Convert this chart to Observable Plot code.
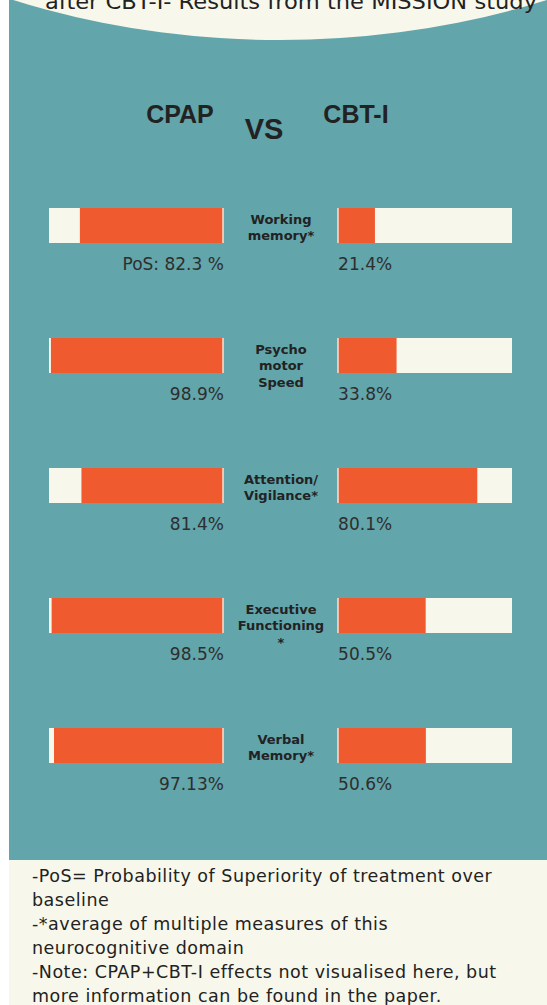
<!DOCTYPE html>
<html>
<head>
<meta charset="utf-8">
<script src="https://cdn.jsdelivr.net/npm/d3@7"></script>
<script src="https://cdn.jsdelivr.net/npm/@observablehq/plot@0.6"></script>
<style>
  html, body { margin: 0; padding: 0; background: #ffffff; }
  #page { position: relative; width: 547px; height: 1005px; overflow: hidden; background: #ffffff; }
  #panel { position: absolute; left: 9px; top: 0; width: 538px; height: 860px; background: #62a5aa; overflow: hidden; }
  #oval { position: absolute; left: -341px; top: -760px; width: 1224px; height: 800px; border-radius: 50%; background: #f7f8eb; }
  #headline { position: absolute; left: 0; top: -20px; }
  .head { position: absolute; width: 100px; text-align: center; font-family: "Liberation Sans", Arial, sans-serif; font-weight: 700; color: #222222; line-height: 1; }
  #chart { position: absolute; left: 0; top: 190px; }
  #footer { position: absolute; left: 9px; top: 860px; width: 538px; height: 145px; background: #f7f8eb;
            box-sizing: border-box; padding: 4px 0 0 23px; font-family: "DejaVu Sans", sans-serif; font-size: 17.5px; letter-spacing: 0.5px; line-height: 24px; color: #222222; white-space: nowrap; }
</style>
</head>
<body>
<div id="page">
  <div id="panel"><div id="oval"></div></div>
  <div id="headline"></div>
  <div class="head" id="hCpap" style="left:130px; top:102px; font-size:25px;">CPAP</div>
  <div class="head" id="hVs" style="left:214px; top:115px; font-size:29px;">VS</div>
  <div class="head" id="hCbti" style="left:306px; top:102px; font-size:25px;">CBT-I</div>
  <div id="chart"></div>
  <div id="footer"></div>
</div>
<script>
// ---- data ----
const domains = ["Working\nmemory*", "Psycho\nmotor\nSpeed", "Attention/\nVigilance*", "Executive\nFunctioning\n*", "Verbal\nMemory*"];
const cpapValues = [82.3, 98.9, 81.4, 98.5, 97.13];
const cbtiValues = [21.4, 33.8, 80.1, 50.5, 50.6];
const cpapLabels = ["PoS: 82.3 %", "98.9%", "81.4%", "98.5%", "97.13%"];
const cbtiLabels = ["21.4%", "33.8%", "80.1%", "50.5%", "50.6%"];
const headline = "after CBT-I- Results from the MISSION study";
const notes = [
  "-PoS= Probability of Superiority of treatment over",
  "baseline",
  "-*average of multiple measures of this",
  "neurocognitive domain",
  "-Note: CPAP+CBT-I effects not visualised here, but",
  "more information can be found in the paper."
];

// ---- layout / style constants ----
const FULL = 100;      // full bar = 100 %
const GAP = 32.75;     // half gap between the two bars, in % units
const ORANGE = "#ef5b2e";
const CREAM = "#f7f8eb";
const INK = "#222222";

const rows = domains.map((d, i) => ({
  domain: d, cpap: cpapValues[i], cbti: cbtiValues[i],
  cpapLabel: cpapLabels[i], cbtiLabel: cbtiLabels[i]
}));

const chart = Plot.plot({
  width: 547,
  height: 630,
  marginLeft: 49,
  marginRight: 35,
  marginTop: 0,
  marginBottom: 0,
  x: { domain: [-(GAP + FULL), GAP + FULL], axis: null },
  y: { type: "band", domain: domains, range: [18, 575], paddingInner: 1 - 35 / 130.5, paddingOuter: 0, align: 0, axis: null },
  style: { background: "transparent", fontFamily: "'DejaVu Sans', sans-serif", color: INK, overflow: "visible" },
  marks: [
    // bar backgrounds
    Plot.barX(rows, { y: "domain", x1: -(GAP + FULL), x2: -GAP, fill: CREAM }),
    Plot.barX(rows, { y: "domain", x1: GAP, x2: GAP + FULL, fill: CREAM }),
    // thin white edges at the inner ends
    Plot.barX(rows, { y: "domain", x1: d => -GAP - 0.6, x2: -GAP, fill: "#ffffff" }),
    Plot.barX(rows, { y: "domain", x1: GAP, x2: d => GAP + 0.6, fill: "#ffffff" }),
    // values
    Plot.barX(rows, { y: "domain", x1: d => -GAP - d.cpap, x2: -GAP, fill: ORANGE, insetRight: 1 }),
    Plot.barX(rows, { y: "domain", x1: GAP, x2: d => GAP + d.cbti, fill: ORANGE, insetLeft: 1 }),
    // value labels
    Plot.text(rows, { x: -GAP, y: "domain", text: "cpapLabel", textAnchor: "end", dy: 39, fontSize: 17, fill: "#2e2e2e" }),
    Plot.text(rows, { x: GAP, y: "domain", text: "cbtiLabel", textAnchor: "start", dy: 39, fontSize: 17, fill: "#2e2e2e" }),
    // domain names
    Plot.text(rows, { x: 0, y: "domain", text: "domain", lineAnchor: "top", dy: -14.5, fontSize: 13, fontWeight: 700, lineHeight: 1.3, fill: INK })
  ]
});
document.getElementById("chart").appendChild(chart);

// headline (partly cut off by the top edge)
const hs = d3.select("#headline").append("svg").attr("width", 547).attr("height", 40);
hs.append("text").attr("x", 45).attr("y", 29)
  .attr("textLength", 492).attr("lengthAdjust", "spacingAndGlyphs")
  .attr("font-family", "'DejaVu Sans', sans-serif").attr("font-size", 22).attr("fill", INK)
  .text(headline);

// footer notes
d3.select("#footer").selectAll("div").data(notes).join("div").text(d => d);
</script>
</body>
</html>
